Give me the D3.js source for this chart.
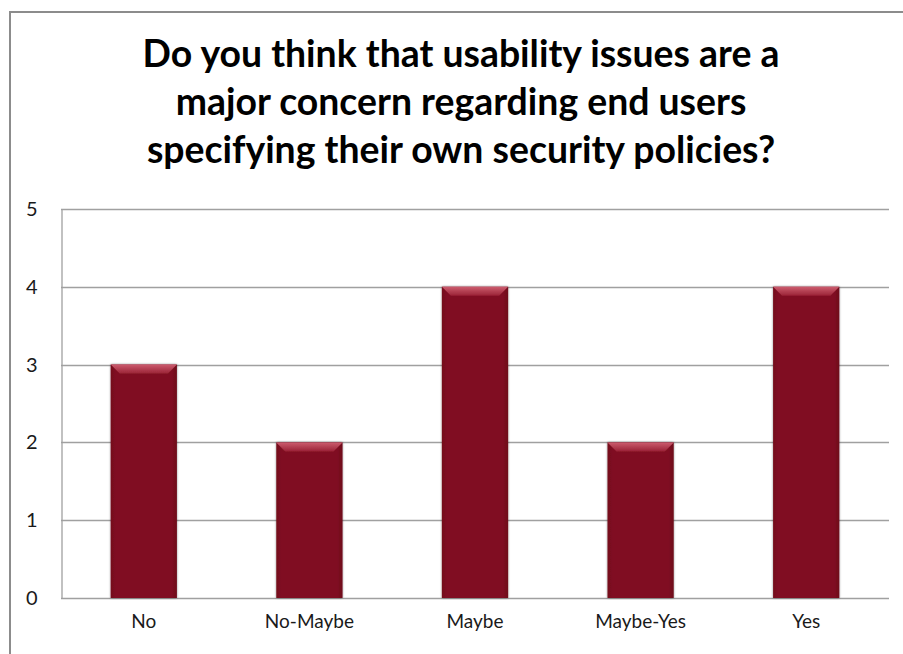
<!DOCTYPE html>
<html>
<head>
<meta charset="utf-8">
<script src="https://cdn.jsdelivr.net/npm/d3@7"></script>
<style>
  html, body { margin: 0; padding: 0; background: #fff; }
  svg { display: block; }
</style>
</head>
<body>
<script>
const categories = ["No", "No-Maybe", "Maybe", "Maybe-Yes", "Yes"];
const values = [3, 2, 4, 2, 4];
const yTicks = [0, 1, 2, 3, 4, 5];
const titleLines = [
  "Do you think that usability issues are a",
  "major concern regarding end users",
  "specifying their own security policies?"
];

const W = 903, H = 654;
const svg = d3.select("body").append("svg").attr("width", W).attr("height", H);
const font = "Lato, 'Open Sans', 'Liberation Sans', sans-serif";

// outer chart border
svg.append("rect").attr("x", 10).attr("y", 12).attr("width", 906).attr("height", 660)
  .attr("fill", "#fff").attr("stroke", "#8c8c8c").attr("stroke-width", 2);

// title
const title = svg.append("g");
const titleBase = [67, 115, 163];
const titleTexts = titleLines.map((t, i) =>
  title.append("text").attr("x", 461).attr("y", titleBase[i])
    .attr("text-anchor", "middle").attr("font-family", font)
    .attr("font-weight", "bold").attr("font-size", 30).attr("fill", "#000").text(t));
// fit first line width to the reference (~637px) and use same size for all
const w0 = titleTexts[0].node().getComputedTextLength();
const fs = Math.min(38, 30 * 637 / w0);
titleTexts.forEach(t => t.attr("font-size", fs));

const plot = { left: 61, right: 889, top: 209, bottom: 598 };
const x = d3.scaleBand().domain(categories).range([plot.left, plot.right]).paddingInner(0.6).paddingOuter(0.3);
const y = d3.scaleLinear().domain([0, 5]).range([plot.bottom, plot.top]);

// gridlines
const grid = svg.append("g");
grid.selectAll("line").data(yTicks).join("line")
  .attr("x1", plot.left).attr("x2", plot.right)
  .attr("y1", d => Math.round(y(d)) + 0.5).attr("y2", d => Math.round(y(d)) + 0.5)
  .attr("stroke", "#a0a0a0").attr("stroke-width", 1.3);

// y axis
const yAxis = d3.axisLeft(y).tickValues(yTicks).tickSize(0).tickPadding(24).tickFormat(d3.format("d"));
const yg = svg.append("g").attr("transform", `translate(${plot.left + 0.5},0)`).call(yAxis);
yg.select(".domain").attr("stroke", "#a0a0a0").attr("stroke-width", 1.3);
yg.selectAll("text").attr("font-family", font).attr("font-size", 20).attr("fill", "#1a1a1a");

// x axis
const xAxis = d3.axisBottom(x).tickSize(0).tickPadding(16);
const xg = svg.append("g").attr("transform", `translate(0,${Math.round(y(0)) + 0.5})`).call(xAxis);
xg.select(".domain").remove();
xg.selectAll("text").attr("font-family", font).attr("font-size", 19).attr("fill", "#1a1a1a");

// gradients
const defs = svg.append("defs");
const gTop = defs.append("linearGradient").attr("id", "gTop").attr("x1", 0).attr("y1", 0).attr("x2", 0).attr("y2", 1);
gTop.append("stop").attr("offset", 0).attr("stop-color", "#cc5c6e");
gTop.append("stop").attr("offset", 1).attr("stop-color", "#9a2236");
const gBody = defs.append("linearGradient").attr("id", "gBody").attr("x1", 0).attr("y1", 0).attr("x2", 1).attr("y2", 0);
gBody.append("stop").attr("offset", 0).attr("stop-color", "#740d1d");
gBody.append("stop").attr("offset", 0.08).attr("stop-color", "#801122");
gBody.append("stop").attr("offset", 0.92).attr("stop-color", "#801122");
gBody.append("stop").attr("offset", 1).attr("stop-color", "#6e0b1b");
const shadow = defs.append("filter").attr("id", "sh").attr("x", "-20%").attr("y", "-20%").attr("width", "140%").attr("height", "140%");
shadow.append("feGaussianBlur").attr("in", "SourceAlpha").attr("stdDeviation", 1.2).attr("result", "b");
shadow.append("feOffset").attr("in", "b").attr("dx", 0).attr("dy", 0).attr("result", "o");
shadow.append("feComponentTransfer").attr("in", "o").attr("result", "o2")
  .append("feFuncA").attr("type", "linear").attr("slope", 0.45);
const fm = shadow.append("feMerge");
fm.append("feMergeNode").attr("in", "o2");
fm.append("feMergeNode").attr("in", "SourceGraphic");

const bev = 9;
const bars = svg.append("g").selectAll("g").data(categories.map((c, i) => ({ c, v: values[i] }))).join("g")
  .attr("filter", "url(#sh)");
bars.append("rect")
  .attr("x", d => x(d.c)).attr("y", d => y(d.v))
  .attr("width", x.bandwidth()).attr("height", d => y(0) - y(d.v))
  .attr("fill", "url(#gBody)");
bars.append("path")
  .attr("d", d => {
    const x0 = x(d.c), x1 = x0 + x.bandwidth(), y0 = y(d.v);
    return `M${x0},${y0}L${x1},${y0}L${x1 - bev},${y0 + bev}L${x0 + bev},${y0 + bev}Z`;
  })
  .attr("fill", "url(#gTop)");
</script>
</body>
</html>
